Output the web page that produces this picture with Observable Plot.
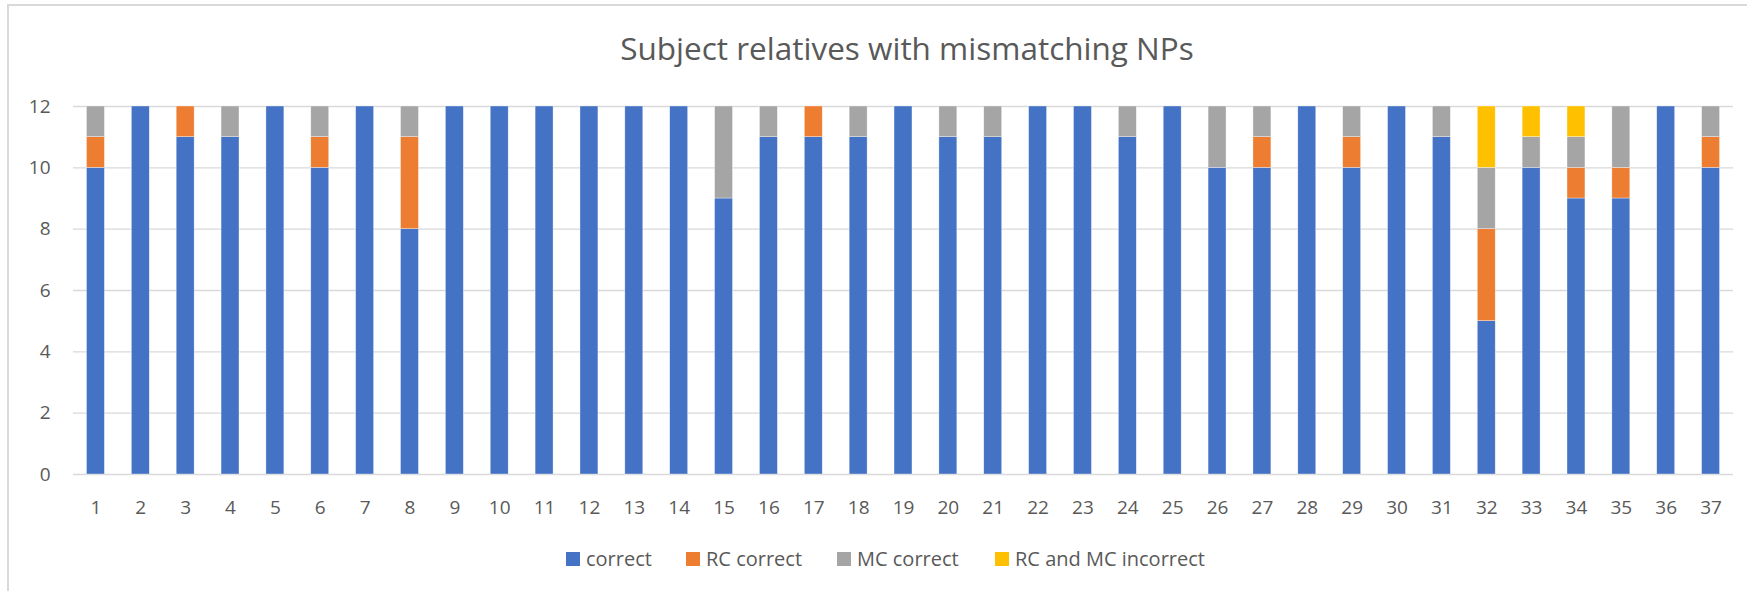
<!DOCTYPE html>
<html>
<head>
<meta charset="utf-8">
<script src="https://cdn.jsdelivr.net/npm/d3@7"></script>
<script src="https://cdn.jsdelivr.net/npm/@observablehq/plot@0.6"></script>
<style>
  html, body { margin: 0; padding: 0; background: #fff; }
  body { width: 1747px; height: 591px; position: relative; overflow: hidden;
         font-family: "Open Sans", "Noto Sans", sans-serif; color: #595959; }
  #frame { position: absolute; left: 7px; top: 4px; width: 1760px; height: 600px; z-index: 5;
           border-top: 2px solid #d9d9d9; border-left: 2px solid #d9d9d9; box-sizing: border-box;
           pointer-events: none; }
  #title { position: absolute; left: 907px; top: 32px; transform: translateX(-50%);
           font-size: 31.5px; line-height: 31.5px; white-space: nowrap; color: #595959; }
  #chart { position: absolute; left: 0; top: 85px; }
  .item { position: absolute; top: 547px; display: flex; align-items: center;
          font-size: 20px; line-height: 24px; white-space: nowrap; color: #595959; }
  .sw { width: 14px; height: 14px; margin-right: 6px; }
</style>
</head>
<body>
<div id="frame"></div>
<div id="title"></div>
<div id="chart"></div>
<div id="legend"></div>
<script>
const titleText = "Subject relatives with mismatching NPs";
const categories = Array.from({length: 37}, (_, i) => String(i + 1));
const seriesNames = ["correct", "RC correct", "MC correct", "RC and MC incorrect"];
const seriesColors = ["#4472C4", "#ED7D31", "#A5A5A5", "#FFC000"];
const correct =        [10,12,11,11,12,10,12, 8,12,12,12,12,12,12, 9,11,11,11,12,11,11,12,12,11,12,10,10,12,10,12,11, 5,10, 9, 9,12,10];
const rcCorrect =      [ 1, 0, 1, 0, 0, 1, 0, 3, 0, 0, 0, 0, 0, 0, 0, 0, 1, 0, 0, 0, 0, 0, 0, 0, 0, 0, 1, 0, 1, 0, 0, 3, 0, 1, 1, 0, 1];
const mcCorrect =      [ 1, 0, 0, 1, 0, 1, 0, 1, 0, 0, 0, 0, 0, 0, 3, 1, 0, 1, 0, 1, 1, 0, 0, 1, 0, 2, 1, 0, 1, 0, 1, 2, 1, 1, 2, 0, 1];
const rcMcIncorrect =  [ 0, 0, 0, 0, 0, 0, 0, 0, 0, 0, 0, 0, 0, 0, 0, 0, 0, 0, 0, 0, 0, 0, 0, 0, 0, 0, 0, 0, 0, 0, 0, 2, 1, 1, 0, 0, 0];
const yTicks = [0, 2, 4, 6, 8, 10, 12];

const seriesValues = [correct, rcCorrect, mcCorrect, rcMcIncorrect];
const data = [];
categories.forEach((c, i) => {
  seriesNames.forEach((s, k) => {
    data.push({category: c, series: s, value: seriesValues[k][i]});
  });
});

document.getElementById("title").textContent = titleText;

const font = '"Open Sans", "Noto Sans", sans-serif';
const plot = Plot.plot({
  width: 1747,
  height: 440,
  marginTop: 21,
  marginBottom: 51,
  marginLeft: 73,
  marginRight: 14,
  style: {fontFamily: font, fontSize: "19px", color: "#595959", background: "transparent"},
  x: {domain: categories, paddingInner: 0.6, paddingOuter: 0.3, label: null},
  y: {domain: [0, 12], label: null},
  color: {domain: seriesNames, range: seriesColors},
  marks: [
    Plot.ruleY(yTicks, {stroke: "#d9d9d9", strokeWidth: 1.4}),
    Plot.barY(data, Plot.stackY({
      x: "category", y: "value", fill: "series", order: seriesNames,
      stroke: "white", strokeWidth: 0.6, strokeOpacity: 0.6
    })),
    Plot.axisX({tickSize: 0, tickPadding: 25.5, label: null, fill: "#595959"}),
    Plot.axisY({ticks: yTicks, tickSize: 0, tickPadding: 23, label: null, fill: "#595959"})
  ]
});
document.getElementById("chart").appendChild(plot);

const legendX = [566, 686, 837, 995];
const legend = document.getElementById("legend");
seriesNames.forEach((s, k) => {
  const item = document.createElement("div");
  item.className = "item";
  item.style.left = legendX[k] + "px";
  const sw = document.createElement("div");
  sw.className = "sw";
  sw.style.background = seriesColors[k];
  const t = document.createElement("span");
  t.textContent = s;
  item.appendChild(sw);
  item.appendChild(t);
  legend.appendChild(item);
});
</script>
</body>
</html>
